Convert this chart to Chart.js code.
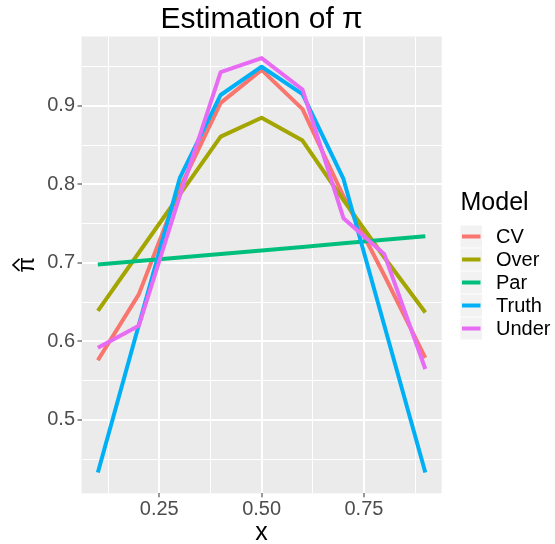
<!DOCTYPE html>
<html>
<head>
<meta charset="utf-8">
<script src="https://cdn.jsdelivr.net/npm/chart.js@4/dist/chart.umd.min.js"></script>
<style>
  html, body { margin: 0; padding: 0; background: #ffffff; }
  #wrap { width: 555px; height: 544px; }
</style>
</head>
<body>
<div id="wrap"><canvas id="pi-chart"></canvas></div>
<script>
const xValues = [0.1, 0.2, 0.3, 0.4, 0.5, 0.6, 0.7, 0.8, 0.9];

const cvValues    = [0.576, 0.660, 0.795, 0.904, 0.946, 0.896, 0.785, 0.684, 0.579];
const overValues  = [0.639, 0.713, 0.787, 0.861, 0.885, 0.856, 0.780, 0.707, 0.637];
const parValues   = [0.698, 0.7025, 0.707, 0.7115, 0.716, 0.7205, 0.725, 0.7295, 0.734];
const truthValues = [0.433, 0.621, 0.808, 0.914, 0.950, 0.915, 0.807, 0.620, 0.433];
const underValues = [0.592, 0.620, 0.785, 0.943, 0.961, 0.921, 0.757, 0.711, 0.565];

const modelNames  = ["CV", "Over", "Par", "Truth", "Under"];
const modelColors = ["#F8766D", "#A3A500", "#00BF7D", "#00B0F6", "#E76BF3"];

const xTicks = [0.125, 0.25, 0.375, 0.5, 0.625, 0.75, 0.875];
const xMajor = [0.25, 0.5, 0.75];
const yTicks = [0.45, 0.5, 0.55, 0.6, 0.65, 0.7, 0.75, 0.8, 0.85, 0.9, 0.95];
const yMajor = [0.5, 0.6, 0.7, 0.8, 0.9];

const FONT = "'Liberation Sans', Arial, sans-serif";

function isMajor(list, v) {
  return list.some(m => Math.abs(m - v) < 1e-6);
}

function toPoints(ys) {
  return xValues.map((x, i) => ({ x: x, y: ys[i] }));
}

const seriesValues = [cvValues, overValues, parValues, truthValues, underValues];

// later models sit on top, like ggplot's drawing order
const datasets = modelNames.map((name, i) => ({
  label: name,
  data: toPoints(seriesValues[i]),
  borderColor: modelColors[i],
  backgroundColor: modelColors[i],
  borderWidth: 4,
  borderCapStyle: "butt",
  borderJoinStyle: "round",
  pointRadius: 0,
  tension: 0,
  fill: false,
  order: modelNames.length - i,
}));

// grey panel, titles and the legend on the right
const ggDecor = {
  id: "ggDecor",
  beforeDraw(chart) {
    const { ctx, chartArea: a } = chart;
    ctx.save();
    ctx.fillStyle = "#EBEBEB";
    ctx.fillRect(a.left, a.top, a.right - a.left, a.bottom - a.top);
    ctx.restore();
  },
  afterDraw(chart) {
    const { ctx, chartArea: a } = chart;
    const midX = (a.left + a.right) / 2;
    ctx.save();
    ctx.fillStyle = "#000000";

    // title
    ctx.font = "30px " + FONT;
    ctx.textAlign = "center";
    ctx.textBaseline = "alphabetic";
    ctx.fillText("Estimation of \u03C0", midX, 28);

    // x axis title
    ctx.font = "25px " + FONT;
    ctx.fillText("x", midX, 540);

    // y axis title: pi with a hat, rotated
    ctx.save();
    ctx.translate(34, (a.top + a.bottom) / 2);
    ctx.rotate(-Math.PI / 2);
    ctx.font = "23px " + FONT;
    ctx.textAlign = "center";
    ctx.textBaseline = "alphabetic";
    ctx.fillText("\u03C0", 0, 0);
    ctx.strokeStyle = "#000000";
    ctx.lineWidth = 1.6;
    ctx.lineJoin = "miter";
    ctx.beginPath();
    ctx.moveTo(-6, -14.5);
    ctx.lineTo(0, -21);
    ctx.lineTo(6, -14.5);
    ctx.stroke();
    ctx.restore();

    // legend
    const lx = 460.5;
    ctx.font = "25px " + FONT;
    ctx.textAlign = "left";
    ctx.fillText("Model", lx, 210);

    const keyTop = 225.5;
    const keyH = 23;
    ctx.font = "20px " + FONT;
    ctx.textBaseline = "middle";
    modelNames.forEach((name, i) => {
      const y0 = keyTop + i * keyH;
      ctx.fillStyle = "#F2F2F2";
      ctx.fillRect(lx, y0, 21.5, keyH - 1);
      ctx.strokeStyle = modelColors[i];
      ctx.lineWidth = 4;
      ctx.lineCap = "butt";
      ctx.beginPath();
      ctx.moveTo(lx + 1.5, y0 + keyH / 2 - 0.5);
      ctx.lineTo(lx + 20, y0 + keyH / 2 - 0.5);
      ctx.stroke();
      ctx.fillStyle = "#000000";
      ctx.fillText(name, 496, y0 + keyH / 2);
    });
    ctx.restore();
  },
};

const ctx = document.getElementById("pi-chart").getContext("2d");

new Chart(ctx, {
  type: "line",
  data: { datasets: datasets },
  plugins: [ggDecor],
  options: {
    responsive: true,
    maintainAspectRatio: false,
    animation: false,
    layout: {
      padding: { left: 0, top: 36.5, right: 113.3, bottom: 0 },
    },
    scales: {
      x: {
        type: "linear",
        min: 0.06,
        max: 0.94,
        afterFit(scale) { scale.height = 50.7; },
        afterBuildTicks(scale) {
          scale.ticks = xTicks.map(v => ({ value: v }));
        },
        border: { display: false },
        grid: {
          color: "#FFFFFF",
          lineWidth: c => (isMajor(xMajor, c.tick.value) ? 2 : 1),
          tickColor: c => (isMajor(xMajor, c.tick.value) ? "#333333" : "rgba(0,0,0,0)"),
          tickLength: 4,
          tickWidth: 1,
        },
        ticks: {
          autoSkip: false,
          maxRotation: 0,
          padding: 0,
          color: "#4D4D4D",
          font: { family: FONT, size: 20 },
          callback: v => (isMajor(xMajor, v) ? v.toFixed(2) : ""),
        },
      },
      y: {
        type: "linear",
        min: 0.4066,
        max: 0.9885,
        afterFit(scale) { scale.width = 81.5; },
        afterBuildTicks(scale) {
          scale.ticks = yTicks.map(v => ({ value: v }));
        },
        border: { display: false },
        grid: {
          color: "#FFFFFF",
          lineWidth: c => (isMajor(yMajor, c.tick.value) ? 2 : 1),
          tickColor: c => (isMajor(yMajor, c.tick.value) ? "#333333" : "rgba(0,0,0,0)"),
          tickLength: 4,
          tickWidth: 1,
        },
        ticks: {
          autoSkip: false,
          padding: 2.5,
          color: "#4D4D4D",
          font: { family: FONT, size: 20 },
          callback: v => (isMajor(yMajor, v) ? v.toFixed(1) : ""),
        },
      },
    },
    plugins: {
      legend: { display: false },
      title: { display: false },
      tooltip: { enabled: false },
    },
  },
});
</script>
</body>
</html>
